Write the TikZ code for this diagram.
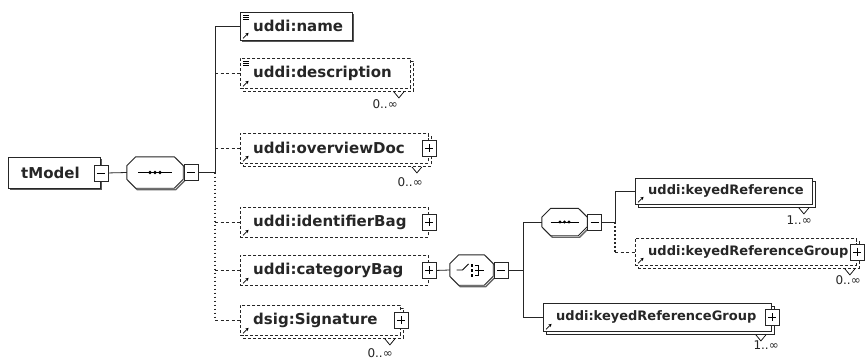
\documentclass[tikz,border=0pt]{standalone}
\usepackage{fontspec}
\setmainfont{DejaVu Sans}
\usetikzlibrary{arrows.meta,calc}

% chamfered outline of a compositor node
\newcommand\octdraw[3]{%
  \draw[#1] ([xshift=#3]#2.north west) -- ([xshift=-#3]#2.north east)
    -- ([yshift=-#3]#2.north east) -- ([yshift=#3]#2.south east)
    -- ([xshift=-#3]#2.south east) -- ([xshift=#3]#2.south west)
    -- ([yshift=#3]#2.south west) -- ([yshift=-#3]#2.north west) -- cycle;}
% compositor: name, centre x, centre y, width, height
\newcommand\compo[5]{%
  \node[inner sep=0, minimum width=#4pt, minimum height=#5pt] (#1) at (#2,#3) {};
  \octdraw{black!60, line width=1.3pt, transform canvas={xshift=1.5pt,yshift=-1.5pt}}{#1}{9pt}
  \octdraw{fill=white, draw=black!85, line width=0.9pt}{#1}{9pt}}
% expand / collapse buttons
\newcommand\plusbtn[2]{%
  \node[btn] (#1) at (#2) {};
  \draw[line width=0.8pt] ($(#1)+(-4,0)$) -- ($(#1)+(4,0)$) ($(#1)+(0,-4)$) -- ($(#1)+(0,4)$);}
\newcommand\minusbtn[2]{%
  \node[btn] (#1) at (#2) {};
  \draw[line width=0.8pt] ($(#1)+(-4,0)$) -- ($(#1)+(4,0)$);}
% reference arrow in the lower left corner of an element box
\newcommand\elarrow[1]{%
  \draw[line width=0.6pt, -{Stealth[length=3pt,width=3.5pt]}]
    ([xshift=3pt,yshift=2.5pt]#1.south west) -- ([xshift=8.5pt,yshift=8pt]#1.south west);}
% text-content mark in the upper left corner
\newcommand\ellines[1]{%
  \draw[line width=0.5pt] ([xshift=3pt,yshift=-3pt]#1.north west) -- ++(6,0)
    ([xshift=3pt,yshift=-5pt]#1.north west) -- ++(6,0)
    ([xshift=3pt,yshift=-7pt]#1.north west) -- ++(6,0);}
% occurrence notch under a box: node, distance from its right edge
\newcommand\notch[2]{%
  \draw[line width=0.7pt] ($(#1.south east)+(-#2-5,0)$) -- ($(#1.south east)+(-#2,6)$)
    -- ($(#1.south east)+(-#2+5,0)$);}

\begin{document}
\begin{tikzpicture}[x=1pt,y=-1pt,
  box/.style={draw=black!85, line width=0.9pt, fill=white, inner sep=0, anchor=north west},
  optbox/.style={box, dash pattern=on 3pt off 2pt},
  ltxt/.style={anchor=west, inner sep=0, font=\fontsize{15}{17}\selectfont\bfseries, text=black!85},
  rtxt/.style={ltxt, font=\fontsize{13}{15}\selectfont\bfseries},
  btn/.style={draw=black!85, line width=0.8pt, fill=white, minimum width=14pt, minimum height=16pt, inner sep=0},
  conn/.style={line width=0.8pt, draw=black!85},
  optconn/.style={conn, dash pattern=on 3pt off 2.5pt},
  dotbus/.style={draw=black!85, line width=1.1pt, dash pattern=on 1.5pt off 2.5pt},
  mult/.style={font=\fontsize{12}{14}\selectfont, anchor=north east, inner sep=0, text=black!85},
]
\useasboundingbox (0,0) rectangle (867,362);
\fill[white] (0,0) rectangle (867,362);

\coordinate (bus) at (215,0);
\coordinate (busb) at (523,0);
\coordinate (busc) at (615,0);

% ---- root element
\fill[black!65] (10,159) rectangle (102,190);
\node[box, minimum width=92pt, minimum height=31pt] (tm) at (8,157) {};
\node[ltxt] (tm-t) at (21,172.5) {tModel};
\minusbtn{tm-b}{tm.east}

% ---- sequence of tModel
\compo{seqA}{155}{172.5}{56}{31}
\draw[line width=0.9pt] ($(seqA)+(-17,0)$) -- ($(seqA)+(17,0)$);
\foreach \dx in {-5,0,5} \fill ($(seqA)+(\dx,0)$) circle (1.8pt);
\minusbtn{seqA-b}{$(seqA.east)+(8,0)$}

% ---- child elements
\fill[black!65] (242,14) rectangle (354,42);
\node[box, minimum width=112pt, minimum height=28pt] (name) at (240,12) {};
\node[ltxt] (name-t) at (253,26) {uddi:name};
\ellines{name}\elarrow{name}

\node[optbox, minimum width=170pt, minimum height=30pt] (desc-bk) at (243,61) {};
\node[optbox, minimum width=170pt, minimum height=30pt] (desc) at (240,58) {};
\node[ltxt] (desc-t) at (253,73) {uddi:description};
\ellines{desc}\elarrow{desc}
\notch{desc-bk}{15}
\node[mult] (desc-m) at (398,99) {0..∞};

\node[optbox, minimum width=188pt, minimum height=30pt] (ovd-bk) at (243,136) {};
\node[optbox, minimum width=188pt, minimum height=30pt] (ovd) at (240,133) {};
\node[ltxt] (ovd-t) at (253,148) {uddi:overviewDoc};
\elarrow{ovd}
\plusbtn{ovd-p}{ovd.east}
\notch{ovd-bk}{15}
\node[mult] (ovd-m) at (423,177) {0..∞};

\node[optbox, minimum width=188pt, minimum height=30pt] (idb) at (240,207) {};
\node[ltxt] (idb-t) at (253,222) {uddi:identifierBag};
\elarrow{idb}
\plusbtn{idb-p}{idb.east}

\node[optbox, minimum width=188pt, minimum height=30pt] (cat) at (240,255) {};
\node[ltxt] (cat-t) at (253,270) {uddi:categoryBag};
\elarrow{cat}
\plusbtn{cat-p}{cat.east}

\node[optbox, minimum width=160pt, minimum height=30pt] (sig-bk) at (243,308) {};
\node[optbox, minimum width=160pt, minimum height=30pt] (sig) at (240,305) {};
\node[ltxt] (sig-t) at (253,320) {dsig:Signature};
\elarrow{sig}
\plusbtn{sig-p}{sig.east}
\notch{sig-bk}{14}
\node[mult] (sig-m) at (393,348) {0..∞};

% ---- choice under categoryBag
\compo{ch}{471.5}{270}{43}{30}
\draw[line width=0.8pt] ($(ch)+(-15,0)$) -- ($(ch)+(-9,0)$) -- ($(ch)+(-3,-6)$);
\foreach \dy in {-5,0,5} \fill ($(ch)+(0,\dy)+(-1,-1)$) rectangle ($(ch)+(0,\dy)+(1.5,1.5)$);
\draw[line width=0.8pt] ($(ch)+(3,-5)$) -- ($(ch)+(7,-5)$) -- ($(ch)+(7,5)$) -- ($(ch)+(3,5)$)
  ($(ch)+(3,0)$) -- ($(ch)+(12,0)$);
\minusbtn{ch-b}{$(ch.east)+(8,0)$}

% ---- sequence inside the choice
\compo{seqB}{564.5}{222}{45}{27}
\draw[line width=0.9pt] ($(seqB)+(-14,0)$) -- ($(seqB)+(14,0)$);
\foreach \dx in {-4.5,0,4.5} \fill ($(seqB)+(\dx,0)$) circle (1.6pt);
\minusbtn{seqB-b}{$(seqB.east)+(7.5,0)$}

\node[box, minimum width=177pt, minimum height=26pt] (kr-bk) at (638,181) {};
\node[box, minimum width=177pt, minimum height=26pt] (kr) at (635,178) {};
\node[rtxt] (kr-t) at (648,191) {uddi:keyedReference};
\elarrow{kr}
\notch{kr-bk}{12}
\node[mult] (kr-m) at (812,216) {1..∞};

\node[optbox, minimum width=221pt, minimum height=27pt] (krg-bk) at (638,241) {};
\node[optbox, minimum width=221pt, minimum height=27pt] (krg) at (635,238) {};
\node[rtxt] (krg-t) at (648,251.5) {uddi:keyedReferenceGroup};
\elarrow{krg}
\plusbtn{krg-p}{krg.east}
\notch{krg-bk}{10}
\node[mult] (krg-m) at (861,275) {0..∞};

\node[box, minimum width=228pt, minimum height=28pt] (grp-bk) at (546,306) {};
\node[box, minimum width=228pt, minimum height=28pt] (grp) at (543,303) {};
\node[rtxt] (grp-t) at (556,317) {uddi:keyedReferenceGroup};
\elarrow{grp}
\plusbtn{grp-p}{grp.east}
\notch{grp-bk}{14}
\node[mult] (grp-m) at (779,341) {1..∞};

% ---- connectors
\draw[conn] (tm-b.east) -- (seqA.west);
\draw[conn] (seqA-b.east) -- (seqA-b.east -| bus);
\draw[conn] (name.west -| bus) -- (seqA-b.east -| bus);
\draw[dotbus] (seqA-b.east -| bus) -- (sig.west -| bus);
\draw[conn] (name.west -| bus) -- (name.west);
\foreach \n in {desc,ovd,idb,cat,sig} \draw[optconn] (\n.west -| bus) -- (\n.west);

\draw[conn] (cat-p.east) -- (ch.west);
\draw[conn] (ch-b.east) -- (ch-b.east -| busb);
\draw[conn] (seqB.west -| busb) -- (grp.west -| busb);
\draw[conn] (seqB.west -| busb) -- (seqB.west);
\draw[conn] (grp.west -| busb) -- (grp.west);

\draw[conn] (seqB-b.east) -- (seqB-b.east -| busc);
\draw[conn] (kr.west -| busc) -- (seqB-b.east -| busc);
\draw[dotbus] (seqB-b.east -| busc) -- (krg.west -| busc);
\draw[conn] (kr.west -| busc) -- (kr.west);
\draw[optconn] (krg.west -| busc) -- (krg.west);
\end{tikzpicture}
\end{document}
